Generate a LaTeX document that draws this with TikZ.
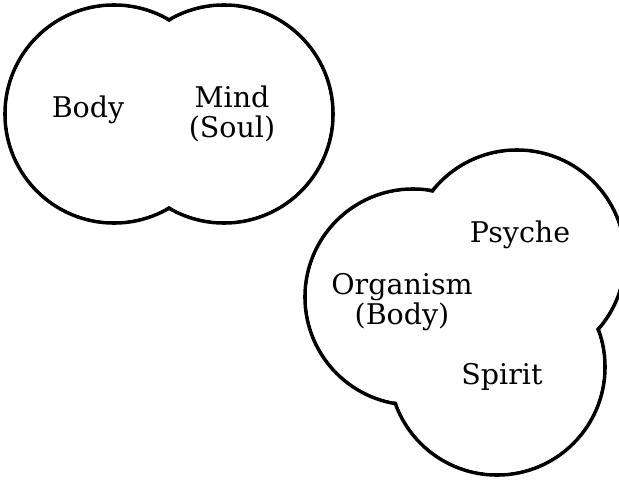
\documentclass[tikz,border=0pt]{standalone}
\usepackage{fontspec}
\setmainfont{DejaVu Serif}
\begin{document}
\begin{tikzpicture}[x=1pt,y=-1pt]
  \useasboundingbox (0,0) rectangle (619,480);
  \coordinate (bodyc)  at (114,114);
  \coordinate (mindc)  at (224,114);
  \coordinate (orgc)   at (413,297);
  \coordinate (psyc)   at (517,258);
  \coordinate (spic)   at (497,367);
  \begin{scope}[every path/.style={draw=black,line width=3.6pt}]
    \path (bodyc) circle[radius=109pt];
    \path (mindc) circle[radius=109pt];
    \path (orgc) circle[radius=108pt];
    \path (psyc) circle[radius=108pt];
    \path (spic) circle[radius=108pt];
  \end{scope}
  % white over the inner arcs
  \begin{scope}[every path/.style={fill=white}]
    \path (bodyc) circle[radius=107pt];
    \path (mindc) circle[radius=107pt];
    \path (orgc) circle[radius=106pt];
    \path (psyc) circle[radius=106pt];
    \path (spic) circle[radius=106pt];
  \end{scope}
  \begin{scope}[every node/.style={font=\fontsize{28.5}{30}\selectfont,align=center,inner sep=0pt}]
    \node (body) at (88,110) {Body};
    \node (mind) at (232,114) {Mind\\(Soul)};
    \node (psyche) at (520,235) {Psyche};
    \node (organism) at (402,302) {Organism\\(Body)};
    \node (spirit) at (502,377) {Spirit};
  \end{scope}
\end{tikzpicture}
\end{document}
